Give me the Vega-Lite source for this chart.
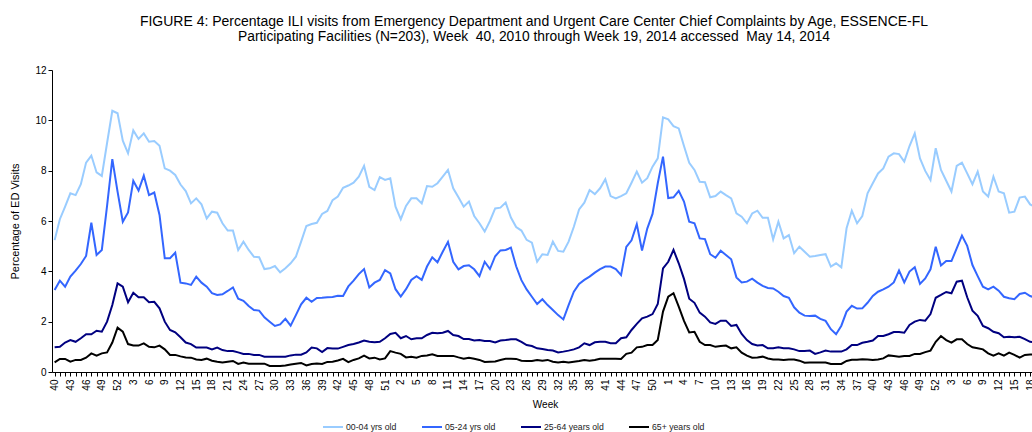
{
"$schema": "https://vega.github.io/schema/vega-lite/v6.json",
"autosize": "none",
"width": 986,
"height": 302,
"padding": {"left": 52, "top": 70, "right": -6, "bottom": 60},
"background": "white",
"config": {"view": {"stroke": null}, "font": "Liberation Sans"},
"title": {"text": "FIGURE 4: Percentage ILI visits from Emergency Department and Urgent Care Center Chief Complaints by Age, ESSENCE-FL", "subtitle": "Participating Facilities (N=203), Week\u00a0 40, 2010 through Week 19, 2014 accessed\u00a0 May 14, 2014", "fontSize": 14, "fontWeight": "normal", "font": "Liberation Sans", "subtitleFont": "Liberation Sans", "subtitleFontSize": 13.8, "subtitleColor": "#000", "subtitlePadding": 1, "anchor": "middle", "offset": 21, "dx": -11, "color": "#000"},
"data": {"values": [
{"t":"2010-40","a":5.24,"b":3.26,"c":0.98,"d":0.38},
{"t":"2010-41","a":6.07,"b":3.63,"c":1.0,"d":0.52},
{"t":"2010-42","a":6.57,"b":3.39,"c":1.17,"d":0.52},
{"t":"2010-43","a":7.1,"b":3.79,"c":1.27,"d":0.41},
{"t":"2010-44","a":7.03,"b":4.03,"c":1.2,"d":0.48},
{"t":"2010-45","a":7.46,"b":4.29,"c":1.34,"d":0.48},
{"t":"2010-46","a":8.32,"b":4.61,"c":1.5,"d":0.57},
{"t":"2010-47","a":8.6,"b":5.93,"c":1.5,"d":0.74},
{"t":"2010-48","a":7.93,"b":4.65,"c":1.64,"d":0.65},
{"t":"2010-49","a":7.79,"b":4.85,"c":1.6,"d":0.74},
{"t":"2010-50","a":9.1,"b":6.6,"c":2.0,"d":0.78},
{"t":"2010-51","a":10.38,"b":8.46,"c":2.66,"d":1.17},
{"t":"2010-52","a":10.28,"b":7.17,"c":3.52,"d":1.76},
{"t":"2011-01","a":9.19,"b":5.97,"c":3.39,"d":1.6},
{"t":"2011-02","a":8.69,"b":6.34,"c":2.77,"d":1.11},
{"t":"2011-03","a":9.6,"b":7.6,"c":3.15,"d":1.05},
{"t":"2011-04","a":9.26,"b":7.21,"c":2.97,"d":1.05},
{"t":"2011-05","a":9.48,"b":7.8,"c":2.97,"d":1.14},
{"t":"2011-06","a":9.15,"b":7.03,"c":2.77,"d":1.0},
{"t":"2011-07","a":9.18,"b":7.13,"c":2.79,"d":0.98},
{"t":"2011-08","a":8.99,"b":6.24,"c":2.53,"d":1.05},
{"t":"2011-09","a":8.09,"b":4.52,"c":2.0,"d":0.9},
{"t":"2011-10","a":8.0,"b":4.52,"c":1.67,"d":0.68},
{"t":"2011-11","a":7.83,"b":4.74,"c":1.58,"d":0.68},
{"t":"2011-12","a":7.45,"b":3.55,"c":1.38,"d":0.62},
{"t":"2011-13","a":7.19,"b":3.52,"c":1.17,"d":0.58},
{"t":"2011-14","a":6.7,"b":3.46,"c":1.11,"d":0.57},
{"t":"2011-15","a":6.9,"b":3.79,"c":0.97,"d":0.5},
{"t":"2011-16","a":6.66,"b":3.55,"c":0.97,"d":0.48},
{"t":"2011-17","a":6.1,"b":3.39,"c":0.97,"d":0.53},
{"t":"2011-18","a":6.37,"b":3.13,"c":0.9,"d":0.45},
{"t":"2011-19","a":6.33,"b":3.06,"c":0.97,"d":0.41},
{"t":"2011-20","a":5.91,"b":3.09,"c":0.87,"d":0.38},
{"t":"2011-21","a":5.62,"b":3.22,"c":0.83,"d":0.41},
{"t":"2011-22","a":5.62,"b":3.36,"c":0.83,"d":0.44},
{"t":"2011-23","a":4.85,"b":2.91,"c":0.78,"d":0.32},
{"t":"2011-24","a":5.18,"b":2.83,"c":0.72,"d":0.38},
{"t":"2011-25","a":4.85,"b":2.62,"c":0.72,"d":0.33},
{"t":"2011-26","a":4.58,"b":2.46,"c":0.68,"d":0.33},
{"t":"2011-27","a":4.56,"b":2.44,"c":0.68,"d":0.33},
{"t":"2011-28","a":4.09,"b":2.17,"c":0.61,"d":0.33},
{"t":"2011-29","a":4.12,"b":2.0,"c":0.61,"d":0.24},
{"t":"2011-30","a":4.21,"b":1.83,"c":0.61,"d":0.24},
{"t":"2011-31","a":3.96,"b":1.89,"c":0.61,"d":0.24},
{"t":"2011-32","a":4.12,"b":2.11,"c":0.61,"d":0.26},
{"t":"2011-33","a":4.32,"b":1.84,"c":0.66,"d":0.3},
{"t":"2011-34","a":4.58,"b":2.26,"c":0.69,"d":0.33},
{"t":"2011-35","a":5.18,"b":2.69,"c":0.69,"d":0.36},
{"t":"2011-36","a":5.8,"b":2.95,"c":0.78,"d":0.26},
{"t":"2011-37","a":5.88,"b":2.79,"c":0.97,"d":0.32},
{"t":"2011-38","a":5.93,"b":2.94,"c":0.94,"d":0.34},
{"t":"2011-39","a":6.28,"b":2.95,"c":0.79,"d":0.32},
{"t":"2011-40","a":6.4,"b":2.97,"c":0.95,"d":0.4},
{"t":"2011-41","a":6.83,"b":2.98,"c":0.93,"d":0.41},
{"t":"2011-42","a":6.97,"b":3.03,"c":0.93,"d":0.46},
{"t":"2011-43","a":7.32,"b":3.02,"c":1.0,"d":0.52},
{"t":"2011-44","a":7.41,"b":3.4,"c":1.07,"d":0.39},
{"t":"2011-45","a":7.52,"b":3.63,"c":1.11,"d":0.48},
{"t":"2011-46","a":7.76,"b":3.89,"c":1.17,"d":0.54},
{"t":"2011-47","a":8.19,"b":4.09,"c":1.25,"d":0.65},
{"t":"2011-48","a":7.36,"b":3.36,"c":1.2,"d":0.54},
{"t":"2011-49","a":7.23,"b":3.55,"c":1.18,"d":0.57},
{"t":"2011-50","a":7.74,"b":3.66,"c":1.2,"d":0.5},
{"t":"2011-51","a":7.63,"b":4.05,"c":1.34,"d":0.54},
{"t":"2011-52","a":7.7,"b":3.92,"c":1.51,"d":0.83},
{"t":"2012-01","a":6.57,"b":3.29,"c":1.56,"d":0.77},
{"t":"2012-02","a":6.07,"b":3.0,"c":1.34,"d":0.72},
{"t":"2012-03","a":6.6,"b":3.29,"c":1.43,"d":0.58},
{"t":"2012-04","a":6.9,"b":3.66,"c":1.3,"d":0.61},
{"t":"2012-05","a":6.9,"b":3.81,"c":1.34,"d":0.57},
{"t":"2012-06","a":6.7,"b":3.66,"c":1.34,"d":0.64},
{"t":"2012-07","a":7.39,"b":4.19,"c":1.47,"d":0.66},
{"t":"2012-08","a":7.36,"b":4.56,"c":1.56,"d":0.7},
{"t":"2012-09","a":7.5,"b":4.36,"c":1.54,"d":0.64},
{"t":"2012-10","a":7.76,"b":4.78,"c":1.56,"d":0.64},
{"t":"2012-11","a":8.03,"b":5.17,"c":1.63,"d":0.64},
{"t":"2012-12","a":7.3,"b":4.38,"c":1.47,"d":0.64},
{"t":"2012-13","a":6.94,"b":4.08,"c":1.43,"d":0.58},
{"t":"2012-14","a":6.57,"b":4.21,"c":1.31,"d":0.53},
{"t":"2012-15","a":6.77,"b":4.24,"c":1.31,"d":0.57},
{"t":"2012-16","a":6.2,"b":4.08,"c":1.25,"d":0.53},
{"t":"2012-17","a":5.91,"b":3.81,"c":1.27,"d":0.48},
{"t":"2012-18","a":5.58,"b":4.38,"c":1.23,"d":0.4},
{"t":"2012-19","a":6.0,"b":4.09,"c":1.23,"d":0.41},
{"t":"2012-20","a":6.5,"b":4.6,"c":1.17,"d":0.42},
{"t":"2012-21","a":6.53,"b":4.83,"c":1.25,"d":0.48},
{"t":"2012-22","a":6.73,"b":4.85,"c":1.27,"d":0.53},
{"t":"2012-23","a":6.14,"b":4.94,"c":1.3,"d":0.53},
{"t":"2012-24","a":5.76,"b":4.2,"c":1.3,"d":0.52},
{"t":"2012-25","a":5.62,"b":3.65,"c":1.2,"d":0.45},
{"t":"2012-26","a":5.25,"b":3.28,"c":1.07,"d":0.44},
{"t":"2012-27","a":5.14,"b":2.99,"c":1.03,"d":0.44},
{"t":"2012-28","a":4.38,"b":2.7,"c":0.94,"d":0.48},
{"t":"2012-29","a":4.68,"b":2.89,"c":0.91,"d":0.45},
{"t":"2012-30","a":4.65,"b":2.66,"c":0.87,"d":0.48},
{"t":"2012-31","a":5.18,"b":2.46,"c":0.85,"d":0.41},
{"t":"2012-32","a":4.81,"b":2.26,"c":0.78,"d":0.38},
{"t":"2012-33","a":4.78,"b":2.09,"c":0.81,"d":0.41},
{"t":"2012-34","a":5.18,"b":2.66,"c":0.85,"d":0.38},
{"t":"2012-35","a":5.77,"b":3.19,"c":0.9,"d":0.41},
{"t":"2012-36","a":6.46,"b":3.5,"c":0.98,"d":0.44},
{"t":"2012-37","a":6.73,"b":3.66,"c":1.14,"d":0.48},
{"t":"2012-38","a":7.23,"b":3.79,"c":1.07,"d":0.45},
{"t":"2012-39","a":7.07,"b":3.95,"c":1.18,"d":0.48},
{"t":"2012-40","a":7.3,"b":4.09,"c":1.2,"d":0.53},
{"t":"2012-41","a":7.66,"b":4.19,"c":1.2,"d":0.53},
{"t":"2012-42","a":6.99,"b":4.19,"c":1.14,"d":0.53},
{"t":"2012-43","a":6.9,"b":4.09,"c":1.14,"d":0.53},
{"t":"2012-44","a":6.99,"b":3.85,"c":1.34,"d":0.52},
{"t":"2012-45","a":7.1,"b":4.97,"c":1.38,"d":0.72},
{"t":"2012-46","a":7.52,"b":5.23,"c":1.67,"d":0.77},
{"t":"2012-47","a":7.96,"b":5.87,"c":1.91,"d":0.98},
{"t":"2012-48","a":7.52,"b":4.83,"c":2.13,"d":1.0},
{"t":"2012-49","a":7.7,"b":5.7,"c":2.2,"d":1.07},
{"t":"2012-50","a":8.16,"b":6.28,"c":2.3,"d":1.07},
{"t":"2012-51","a":8.49,"b":7.5,"c":2.7,"d":1.27},
{"t":"2012-52","a":10.12,"b":8.56,"c":4.12,"d":2.4},
{"t":"2013-01","a":10.04,"b":6.91,"c":4.38,"d":2.99},
{"t":"2013-02","a":9.77,"b":6.94,"c":4.85,"d":3.13},
{"t":"2013-03","a":9.68,"b":7.2,"c":4.32,"d":2.6},
{"t":"2013-04","a":8.98,"b":6.77,"c":3.7,"d":2.03},
{"t":"2013-05","a":8.31,"b":5.97,"c":2.91,"d":1.57},
{"t":"2013-06","a":8.03,"b":5.91,"c":2.75,"d":1.6},
{"t":"2013-07","a":7.56,"b":5.31,"c":2.36,"d":1.2},
{"t":"2013-08","a":7.54,"b":5.28,"c":2.2,"d":1.07},
{"t":"2013-09","a":6.94,"b":4.68,"c":1.97,"d":1.07},
{"t":"2013-10","a":6.99,"b":4.54,"c":1.91,"d":1.0},
{"t":"2013-11","a":7.17,"b":4.82,"c":2.04,"d":1.03},
{"t":"2013-12","a":7.03,"b":4.65,"c":2.04,"d":1.05},
{"t":"2013-13","a":6.9,"b":4.48,"c":1.83,"d":0.94},
{"t":"2013-14","a":6.3,"b":3.76,"c":1.87,"d":0.98},
{"t":"2013-15","a":6.17,"b":3.56,"c":1.51,"d":0.77},
{"t":"2013-16","a":5.91,"b":3.59,"c":1.27,"d":0.65},
{"t":"2013-17","a":6.3,"b":3.71,"c":1.11,"d":0.57},
{"t":"2013-18","a":6.41,"b":3.55,"c":1.05,"d":0.58},
{"t":"2013-19","a":6.13,"b":3.42,"c":1.07,"d":0.61},
{"t":"2013-20","a":6.13,"b":3.34,"c":0.94,"d":0.54},
{"t":"2013-21","a":5.27,"b":3.32,"c":0.94,"d":0.5},
{"t":"2013-22","a":5.97,"b":3.19,"c":0.98,"d":0.5},
{"t":"2013-23","a":5.31,"b":3.02,"c":0.94,"d":0.48},
{"t":"2013-24","a":5.44,"b":2.95,"c":0.94,"d":0.5},
{"t":"2013-25","a":4.72,"b":2.57,"c":0.9,"d":0.5},
{"t":"2013-26","a":4.98,"b":2.36,"c":0.83,"d":0.45},
{"t":"2013-27","a":4.78,"b":2.24,"c":0.83,"d":0.37},
{"t":"2013-28","a":4.58,"b":2.23,"c":0.85,"d":0.38},
{"t":"2013-29","a":4.61,"b":2.24,"c":0.72,"d":0.38},
{"t":"2013-30","a":4.65,"b":2.11,"c":0.78,"d":0.38},
{"t":"2013-31","a":4.68,"b":2.03,"c":0.85,"d":0.38},
{"t":"2013-32","a":4.19,"b":1.7,"c":0.81,"d":0.32},
{"t":"2013-33","a":4.32,"b":1.5,"c":0.81,"d":0.32},
{"t":"2013-34","a":4.16,"b":1.84,"c":0.81,"d":0.32},
{"t":"2013-35","a":5.71,"b":2.4,"c":0.9,"d":0.44},
{"t":"2013-36","a":6.41,"b":2.63,"c":1.07,"d":0.49},
{"t":"2013-37","a":5.91,"b":2.52,"c":1.07,"d":0.49},
{"t":"2013-38","a":6.2,"b":2.53,"c":1.16,"d":0.51},
{"t":"2013-39","a":7.1,"b":2.75,"c":1.2,"d":0.5},
{"t":"2013-40","a":7.5,"b":3.02,"c":1.25,"d":0.48},
{"t":"2013-41","a":7.89,"b":3.19,"c":1.43,"d":0.5},
{"t":"2013-42","a":8.09,"b":3.28,"c":1.43,"d":0.54},
{"t":"2013-43","a":8.56,"b":3.39,"c":1.5,"d":0.66},
{"t":"2013-44","a":8.69,"b":3.56,"c":1.59,"d":0.64},
{"t":"2013-45","a":8.66,"b":4.03,"c":1.59,"d":0.61},
{"t":"2013-46","a":8.36,"b":3.56,"c":1.56,"d":0.64},
{"t":"2013-47","a":8.98,"b":3.99,"c":1.87,"d":0.64},
{"t":"2013-48","a":9.48,"b":4.16,"c":2.0,"d":0.72},
{"t":"2013-49","a":8.49,"b":3.5,"c":2.07,"d":0.72},
{"t":"2013-50","a":7.99,"b":3.72,"c":2.04,"d":0.79},
{"t":"2013-51","a":7.63,"b":4.08,"c":2.3,"d":0.85},
{"t":"2013-52","a":8.89,"b":4.98,"c":2.95,"d":1.2},
{"t":"2014-01","a":8.03,"b":4.23,"c":3.06,"d":1.43},
{"t":"2014-02","a":7.6,"b":4.41,"c":3.18,"d":1.27},
{"t":"2014-03","a":7.17,"b":4.41,"c":3.13,"d":1.17},
{"t":"2014-04","a":8.19,"b":4.91,"c":3.59,"d":1.3},
{"t":"2014-05","a":8.32,"b":5.42,"c":3.63,"d":1.3},
{"t":"2014-06","a":7.89,"b":5.01,"c":2.97,"d":1.11},
{"t":"2014-07","a":7.46,"b":4.25,"c":2.44,"d":0.98},
{"t":"2014-08","a":7.96,"b":3.81,"c":2.23,"d":0.94},
{"t":"2014-09","a":7.17,"b":3.39,"c":1.83,"d":0.9},
{"t":"2014-10","a":6.97,"b":3.28,"c":1.74,"d":0.74},
{"t":"2014-11","a":7.76,"b":3.39,"c":1.6,"d":0.65},
{"t":"2014-12","a":7.17,"b":3.23,"c":1.54,"d":0.74},
{"t":"2014-13","a":7.1,"b":2.99,"c":1.38,"d":0.65},
{"t":"2014-14","a":6.33,"b":2.93,"c":1.4,"d":0.77},
{"t":"2014-15","a":6.37,"b":2.89,"c":1.38,"d":0.68},
{"t":"2014-16","a":6.93,"b":3.1,"c":1.4,"d":0.57},
{"t":"2014-17","a":6.97,"b":3.15,"c":1.31,"d":0.68},
{"t":"2014-18","a":6.66,"b":3.02,"c":1.2,"d":0.7},
{"t":"2014-19","a":6.55,"b":2.95,"c":1.18,"d":0.68}
]},
"transform": [{"fold": ["a", "b", "c", "d"], "as": ["s", "v"]}],
"mark": {"type": "line", "strokeWidth": 2},
"encoding": {
  "x": {"field": "t", "type": "ordinal", "scale": {"type": "point", "padding": 0.5},
    "axis": {"title": "Week", "labelAngle": -90, "labelAlign": "right", "labelBaseline": "middle",
      "labelExpr": "round(datum.index*187) % 3 == 0 ? '' + toNumber(substring(datum.value, 5)) : ''",
      "labelOverlap": false, "labelBound": false, "labelFontSize": 10, "labelColor": "#000", "labelPadding": 3,
      "tickSize": 4, "tickColor": "#000", "domainColor": "#000", "titleFontSize": 10, "titleFontWeight": "normal",
      "titleColor": "#000", "titlePadding": 9}},
  "y": {"field": "v", "type": "quantitative", "scale": {"domain": [0, 12], "nice": false},
    "axis": {"title": "Percentage of ED Visits", "values": [0, 2, 4, 6, 8, 10, 12], "grid": false, "tickSize": 4,
      "labelFontSize": 10, "labelColor": "#000", "labelPadding": 2, "titleFontSize": 11, "titleFontWeight": "normal",
      "titleColor": "#000", "titlePadding": 14, "domainColor": "#000", "tickColor": "#000"}},
  "color": {"field": "s", "type": "nominal",
    "scale": {"domain": ["a", "b", "c", "d"], "range": ["#99CCFF", "#3366FF", "#000080", "#000000"]},
    "legend": {"title": null, "orient": "none", "legendX": 270, "legendY": 346, "direction": "horizontal",
      "gridAlign": "none", "symbolType": "stroke", "symbolSize": 400, "symbolStrokeWidth": 2, "labelFontSize": 8.7, "labelOffset": 2,
      "columnPadding": 21, "padding": 0, "labelColor": "#222",
      "labelExpr": "datum.value == 'a' ? '00-04 yrs old' : datum.value == 'b' ? '05-24 yrs old' : datum.value == 'c' ? '25-64 years old' : '65+ years old'"}}
}
}
